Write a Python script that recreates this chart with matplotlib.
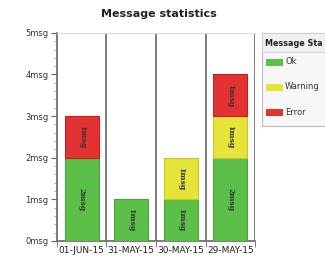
import matplotlib
matplotlib.use("Agg")
import matplotlib.pyplot as plt
from matplotlib.patches import Rectangle
from matplotlib.ticker import MultipleLocator, FixedLocator

dates = ["01-JUN-15", "31-MAY-15", "30-MAY-15", "29-MAY-15"]
ok = [2, 1, 1, 2]
warning = [0, 0, 1, 1]
error = [1, 0, 0, 1]
series_names = ["Ok", "Warning", "Error"]
colors = ["#5cbf48", "#e6e43a", "#e33232"]
edges = ["#4aa43a", "#c8c62a", "#c42222"]

fig = plt.figure(figsize=(3.25, 2.61), dpi=100)
ax = fig.add_axes([0.175, 0.077, 0.61, 0.797])

x = list(range(len(dates)))
bottom = [0] * len(dates)
for vals, c, ec in zip([ok, warning, error], colors, edges):
    # skip empty segments so no zero-height outline is drawn
    xs = [xi for xi, v in zip(x, vals) if v > 0]
    hs = [v for v in vals if v > 0]
    bs = [b for b, v in zip(bottom, vals) if v > 0]
    ax.bar(xs, hs, bottom=bs, width=0.68, color=c, edgecolor=ec, linewidth=0.8, zorder=3)
    for xi, v, b in zip(xs, hs, bs):
        ax.text(xi, b + v / 2, f"{v}msg", rotation=270, ha="center", va="center",
                fontsize=5.5, family="DejaVu Serif", fontweight="bold", color="#333333", zorder=4)
    bottom = [b + v for b, v in zip(bottom, vals)]

ax.set_xlim(-0.5, len(dates) - 0.5)
ax.set_ylim(0, 5)
ax.set_yticks(range(6))
ax.set_yticklabels([f"{i}msg" for i in range(6)], fontsize=6, color="#333333")
ax.yaxis.set_minor_locator(MultipleLocator(0.2))
ax.set_xticks(x)
ax.set_xticklabels(dates, fontsize=6.5, color="#222222")
ax.tick_params(axis="x", length=0, pad=4)
ax.tick_params(axis="y", which="major", length=4, color="#666666", pad=2)
ax.tick_params(axis="y", which="minor", length=2, color="#999999")

# vertical separators between categories
bounds = [i + 0.5 for i in range(len(dates))]
for b in bounds:
    ax.axvline(b, color="#666666", linewidth=1.2, zorder=2)
ax.xaxis.set_minor_locator(FixedLocator([-0.5] + bounds))
ax.tick_params(axis="x", which="minor", length=4, color="#666666")

for side in ["left", "bottom"]:
    ax.spines[side].set_color("#666666")
    ax.spines[side].set_linewidth(1.2)
ax.spines["top"].set_color("#dddddd")
ax.spines["right"].set_visible(False)

fig.text(0.49, 0.945, "Message statistics", ha="center", va="center",
         fontsize=8, fontweight="bold", color="#222222")

# legend panel, cut off at the right edge like the original
W, H = 325, 261
def fx(px):
    return px / W
def fy(py):
    return 1 - py / H

fig.patches.append(Rectangle((fx(262), fy(126)), fx(70), 93 / H, transform=fig.transFigure,
                             facecolor="#f7f7f7", edgecolor="#bbbbbb", linewidth=0.8))
fig.patches.append(Rectangle((fx(262), fy(52)), fx(70), 19 / H, transform=fig.transFigure,
                             facecolor="#f0f0f0", edgecolor="#cccccc", linewidth=0.6))
# header is truncated in the source image
fig.text(fx(265), fy(43), "Message Sta", fontsize=5.8, fontweight="bold",
         va="center", ha="left", color="#222222")
for i, (name, c) in enumerate(zip(series_names, colors)):
    yc = 62 + i * 25
    fig.patches.append(Rectangle((fx(266), fy(yc + 3.5)), fx(17), 7 / H,
                                 transform=fig.transFigure, facecolor=c, edgecolor="none"))
    fig.text(fx(285), fy(yc), name, fontsize=6, va="center", ha="left", color="#333333")

fig.savefig("out.png", dpi=100)
